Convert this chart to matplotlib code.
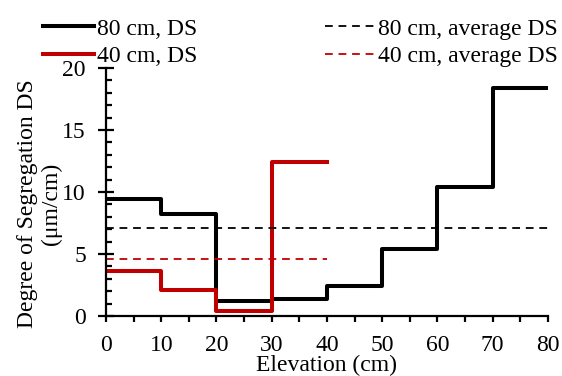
import matplotlib
matplotlib.use('Agg')
import matplotlib.pyplot as plt
from matplotlib.ticker import MultipleLocator

plt.rcParams['font.family'] = ['Liberation Serif', 'DejaVu Serif']

# elevation bin edges (cm)
edges_80 = [0, 10, 20, 30, 40, 50, 60, 70, 80]
ds_80 = [9.4, 8.2, 1.2, 1.4, 2.4, 5.4, 10.4, 18.4]
edges_40 = [0, 10, 20, 30, 40]
ds_40 = [3.6, 2.1, 0.4, 12.4]
avg_80 = 7.1
avg_40 = 4.6

fig = plt.figure(figsize=(5.62, 3.76), dpi=100)
ax = fig.add_axes([0.1886, 0.1596, 0.7864, 0.6594])

red = '#C00000'
ax.step(edges_80, ds_80 + [ds_80[-1]], where='post', color='black', lw=2.9,
        label='80 cm, DS')
ax.step(edges_40, ds_40 + [ds_40[-1]], where='post', color=red, lw=2.9,
        label='40 cm, DS')
ax.plot([edges_80[0], edges_80[-1]], [avg_80, avg_80], color='black', lw=1.3,
        dashes=(4.3, 3.2), label='80 cm, average DS')
ax.plot([edges_40[0], edges_40[-1]], [avg_40, avg_40], color=red, lw=1.3,
        dashes=(4.3, 3.2), label='40 cm, average DS')

ax.set_xlim(0, 80)
ax.set_ylim(0, 20)
ax.xaxis.set_major_locator(MultipleLocator(10))
ax.xaxis.set_minor_locator(MultipleLocator(5))
ax.yaxis.set_major_locator(MultipleLocator(5))
ax.yaxis.set_minor_locator(MultipleLocator(1))

for s in ['top', 'right']:
    ax.spines[s].set_visible(False)
for s in ['left', 'bottom']:
    ax.spines[s].set_linewidth(1.6)

ax.tick_params(axis='x', which='both', direction='out', length=4.5, width=1.6,
               labelsize=17, pad=9)
ax.tick_params(axis='y', which='major', direction='inout', length=11, width=1.6,
               labelsize=17, pad=9)
ax.tick_params(axis='y', which='minor', direction='in', length=4, width=1.6)

ax.set_xlabel('Elevation (cm)', fontsize=17)
ax.xaxis.set_label_coords(0.5, -0.158)
ax.set_ylabel('Degree of Segregation DS\n(μm/cm)', fontsize=17,
              linespacing=1.15)
ax.yaxis.set_label_coords(-0.10, 0.452)

h, l = ax.get_legend_handles_labels()
fig.legend(h, l, ncol=2, loc='upper left', bbox_to_anchor=(0.077, 0.952),
           frameon=False, fontsize=17, handlelength=2.15, handletextpad=0.12,
           columnspacing=5.4, labelspacing=0.24, borderaxespad=0,
           borderpad=0)

fig.savefig('out.png', dpi=100)
